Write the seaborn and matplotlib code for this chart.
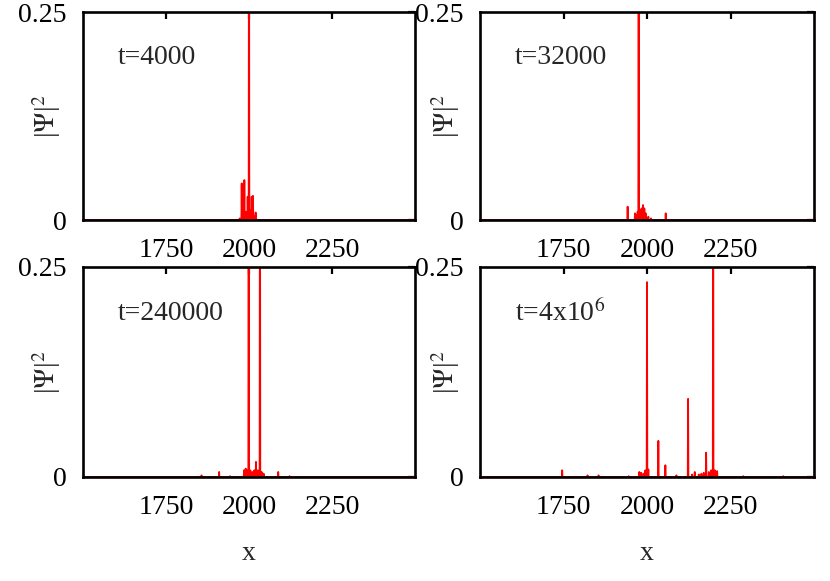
import matplotlib
matplotlib.use("Agg")
import matplotlib.pyplot as plt
import numpy as np
import pandas as pd
import seaborn as sns

# --- data: spike positions (x) and heights |Psi|^2 ---
# heights above 0.25 are clipped by the axis (value only needs to exceed it)
times = ["t=4000", "t=32000", "t=240000", r"t=4x10$^6$"]

x_t1 = [1972, 1978, 1986, 1990, 1996, 2000, 2004, 2008, 2012, 2016, 2020]
h_t1 = [0.002, 0.044, 0.048, 0.010, 0.028, 0.50, 0.012, 0.028, 0.029, 0.005, 0.009]

x_t2 = [1942, 1964, 1968, 1972, 1975, 1980, 1984, 1988, 1992, 1996, 2004, 2012, 2056]
h_t2 = [0.016, 0.008, 0.006, 0.010, 0.50, 0.012, 0.014, 0.018, 0.014, 0.008, 0.004, 0.002, 0.008]

x_t3 = [1857, 1910, 1943, 1985, 1990, 1994, 1999, 2004, 2010, 2016, 2021, 2027, 2033, 2038, 2044, 2088, 2122]
h_t3 = [0.002, 0.006, 0.001, 0.008, 0.010, 0.008, 0.50, 0.008, 0.006, 0.008, 0.018, 0.008, 0.50, 0.006, 0.004, 0.006, 0.001]

x_t4 = [1746, 1822, 1855, 1945, 1977, 1983, 1990, 1995, 2000, 2004, 2034, 2055, 2088,
        2123, 2135, 2143, 2155, 2163, 2170, 2177, 2185, 2192, 2198, 2203, 2210, 2288, 2408]
h_t4 = [0.008, 0.002, 0.002, 0.001, 0.006, 0.005, 0.004, 0.008, 0.232, 0.009, 0.043, 0.014, 0.002,
        0.093, 0.003, 0.006, 0.003, 0.004, 0.005, 0.029, 0.006, 0.008, 0.50, 0.008, 0.007, 0.001, 0.001]

panels = [(x_t1, h_t1), (x_t2, h_t2), (x_t3, h_t3), (x_t4, h_t4)]

x_lim = (1500, 2500)
y_lim = (0, 0.25)
x_ticks = [1750, 2000, 2250]
y_ticks = [0, 0.25]
y_ticklabels = ["0", "0.25"]


def spikes_frame(xs, hs):
    """Turn spike list into a line trace that returns to zero between spikes."""
    px, py = [x_lim[0]], [0.0]
    for x, h in zip(xs, hs):
        px += [x - 1, x, x + 1]
        py += [0.0, h, 0.0]
    px.append(x_lim[1])
    py.append(0.0)
    return pd.DataFrame({"x": px, "psi2": py})


sns.set_theme(style="white")
plt.rcParams["font.family"] = ["Liberation Serif", "DejaVu Serif"]
plt.rcParams["mathtext.fontset"] = "stix"
FS = 20

W, H = 830, 581
fig = plt.figure(figsize=(W / 100, H / 100), dpi=100)

# axes boxes in pixels: (left, top, right, bottom)
boxes = [(83, 12, 415, 220), (480, 12, 814, 220),
         (83, 267, 415, 477), (480, 267, 814, 477)]
ylabel_px = [63, 462, 63, 462]  # right edge of the rotated y label, figure px

for i, ((xs, hs), label, (l, t, r, b)) in enumerate(zip(panels, times, boxes)):
    ax = fig.add_axes([l / W, 1 - b / H, (r - l) / W, (b - t) / H])
    df = spikes_frame(xs, hs)
    sns.lineplot(data=df, x="x", y="psi2", ax=ax, color="#ff0000", lw=1.3,
                 sort=False, estimator=None)
    ax.set_xlim(*x_lim)
    ax.set_ylim(*y_lim)
    ax.set_xticks(x_ticks)
    ax.set_xticklabels([str(v) for v in x_ticks])
    ax.set_yticks(y_ticks)
    ax.set_yticklabels(y_ticklabels)
    ax.tick_params(direction="in", length=5, width=1.6, top=True, right=True,
                   labelsize=FS, pad=13, colors="black")
    ax.tick_params(axis="y", pad=12)
    for sp in ax.spines.values():
        sp.set_linewidth(1.9)
        sp.set_color("black")
        sp.set_zorder(3)
    ax.set_ylabel(r"|$\Psi$|$^2$", fontsize=FS)
    ax.yaxis.set_label_coords((ylabel_px[i] - l) / (r - l), 0.5)
    ax.set_xlabel("x" if i >= 2 else "", fontsize=FS, labelpad=15)
    ax.text(1605, 0.195, label, fontsize=FS, ha="left", va="center")
    ax.grid(False)

fig.savefig("out.png", dpi=100, facecolor="white")
plt.close(fig)
